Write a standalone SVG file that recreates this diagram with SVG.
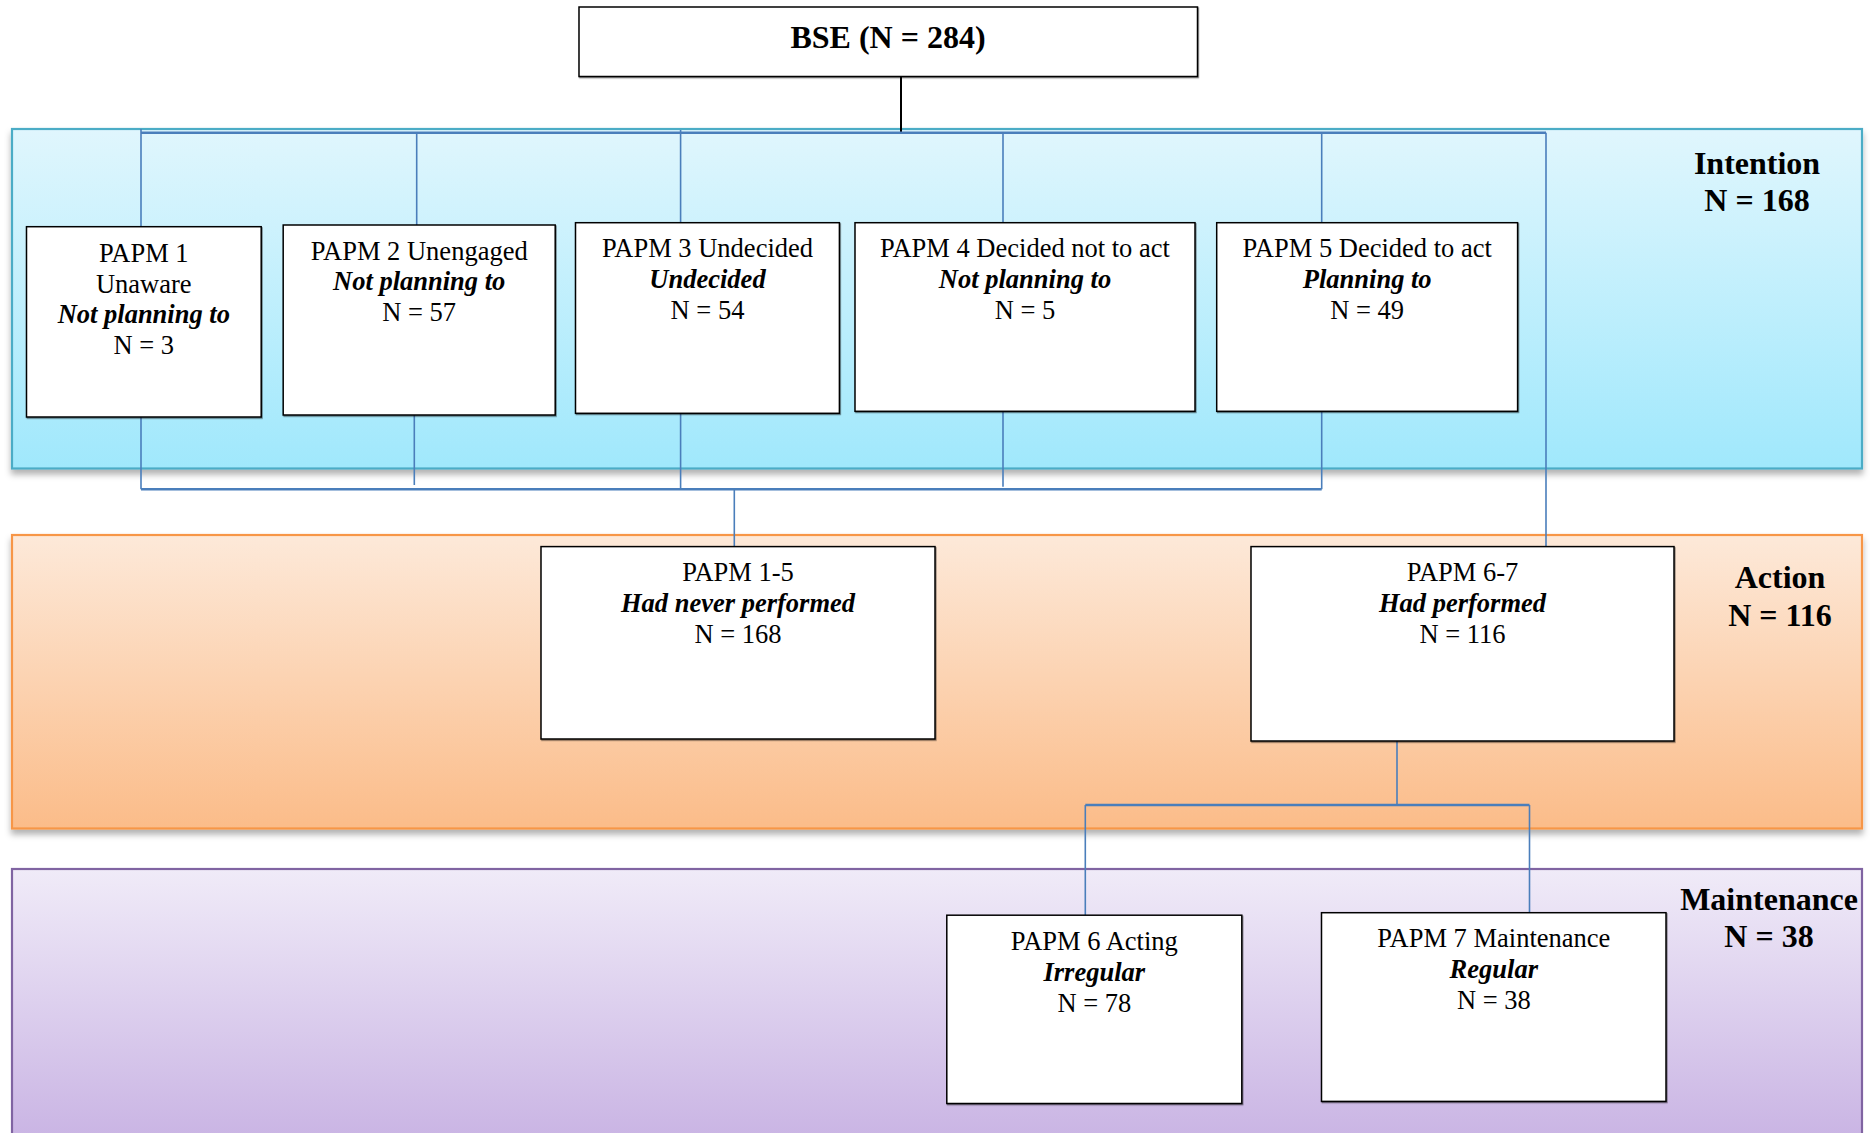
<svg xmlns="http://www.w3.org/2000/svg" width="1872" height="1133" viewBox="0 0 1872 1133">
<style>
.box{fill:#ffffff;stroke:#000000;stroke-width:1.5;filter:url(#bsh)}
.t{font-family:"Liberation Serif","Times New Roman",serif;font-size:26.5px;fill:#000;text-anchor:middle}
.bi{font-weight:bold;font-style:italic}
.lab{font-family:"Liberation Serif","Times New Roman",serif;font-size:32px;font-weight:bold;fill:#000;text-anchor:middle}
.con{fill:none;stroke:#4a7ebb;stroke-width:1.6}
.bus{fill:none;stroke:#4a7ebb;stroke-width:2.4}
</style>
<defs>
<linearGradient id="gI" x1="0" y1="0" x2="0" y2="1"><stop offset="0" stop-color="#e0f6fd"/><stop offset="1" stop-color="#a0e8fc"/></linearGradient>
<linearGradient id="gA" x1="0" y1="0" x2="0" y2="1"><stop offset="0" stop-color="#fde9d9"/><stop offset="1" stop-color="#fbbc89"/></linearGradient>
<linearGradient id="gM" x1="0" y1="0" x2="0" y2="1"><stop offset="0" stop-color="#f0ebf8"/><stop offset="1" stop-color="#c8b2e3"/></linearGradient>
<filter id="sh" x="-5%" y="-10%" width="110%" height="130%"><feDropShadow dx="0" dy="5" stdDeviation="3" flood-color="#000" flood-opacity="0.3"/></filter>
<filter id="bsh" x="-5%" y="-5%" width="110%" height="110%"><feDropShadow dx="0.8" dy="1.2" stdDeviation="0.6" flood-color="#000" flood-opacity="0.45"/></filter>
</defs>
<rect width="1872" height="1133" fill="#ffffff"/>

<g id="band-intention">
<rect x="12" y="129" width="1850" height="339.5" fill="url(#gI)" stroke="#4bacc6" stroke-width="2.2" filter="url(#sh)"/>
<text class="lab" x="1757" y="173.5">Intention</text>
<text class="lab" x="1757" y="210.5">N = 168</text>
</g>
<g id="band-action">
<rect x="12" y="535" width="1850" height="293.5" fill="url(#gA)" stroke="#f79646" stroke-width="2.2" filter="url(#sh)"/>
<text class="lab" x="1780" y="588">Action</text>
<text class="lab" x="1780" y="625.5">N = 116</text>
</g>
<g id="band-maintenance">
<rect x="12" y="869" width="1850" height="280" fill="url(#gM)" stroke="#8064a2" stroke-width="2.2"/>
<text class="lab" x="1769" y="909.5">Maintenance</text>
<text class="lab" x="1769" y="947">N = 38</text>
</g>

<g id="connectors">
<line x1="901" y1="76.5" x2="901" y2="132.7" stroke="#000" stroke-width="2"/>
<line class="bus" x1="141" y1="132.7" x2="1546" y2="132.7"/>
<line class="con" x1="141" y1="129" x2="141" y2="226.7"/>
<line class="con" x1="416.7" y1="132.7" x2="416.7" y2="225"/>
<line class="con" x1="680.6" y1="130" x2="680.6" y2="222.7"/>
<line class="con" x1="1003" y1="132.7" x2="1003" y2="222.7"/>
<line class="con" x1="1321.7" y1="132.7" x2="1321.7" y2="222.7"/>
<line class="con" x1="1546" y1="132.7" x2="1546" y2="546.6"/>
<line class="con" x1="141" y1="417" x2="141" y2="489.2"/>
<line class="con" x1="414.3" y1="415" x2="414.3" y2="485"/>
<line class="con" x1="680.6" y1="413.3" x2="680.6" y2="489.2"/>
<line class="con" x1="1003" y1="411.3" x2="1003" y2="486.7"/>
<line class="con" x1="1321.7" y1="411.3" x2="1321.7" y2="489.2"/>
<line class="bus" x1="141" y1="489.2" x2="1321.7" y2="489.2"/>
<line class="con" x1="734.3" y1="489.2" x2="734.3" y2="546.6"/>
<line class="con" x1="1397" y1="741" x2="1397" y2="805"/>
<line class="bus" x1="1085.3" y1="805" x2="1529.5" y2="805"/>
<line class="con" x1="1085.3" y1="805" x2="1085.3" y2="915.2"/>
<line class="con" x1="1529.5" y1="805" x2="1529.5" y2="913"/>
</g>

<g id="bse">
<rect class="box" x="579" y="7" width="618.5" height="69.5"/>
<text class="lab" x="888" y="47.7">BSE (N = 284)</text>
</g>

<g id="papm1">
<rect class="box" x="26.5" y="226.7" width="234.7" height="190.3"/>
<text class="t" x="143.8" y="262.3">PAPM 1</text>
<text class="t" x="143.8" y="292.8">Unaware</text>
<text class="t bi" x="143.8" y="323.3">Not planning to</text>
<text class="t" x="143.8" y="353.8">N = 3</text>
</g>
<g id="papm2">
<rect class="box" x="283.2" y="225" width="272" height="190"/>
<text class="t" x="419.2" y="259.6">PAPM 2 Unengaged</text>
<text class="t bi" x="419.2" y="290.4">Not planning to</text>
<text class="t" x="419.2" y="321.2">N = 57</text>
</g>
<g id="papm3">
<rect class="box" x="575.5" y="222.7" width="263.9" height="190.6"/>
<text class="t" x="707.5" y="257.3">PAPM 3 Undecided</text>
<text class="t bi" x="707.5" y="288.1">Undecided</text>
<text class="t" x="707.5" y="318.9">N = 54</text>
</g>
<g id="papm4">
<rect class="box" x="855" y="222.7" width="340" height="188.6"/>
<text class="t" x="1025" y="257.3">PAPM 4 Decided not to act</text>
<text class="t bi" x="1025" y="288.1">Not planning to</text>
<text class="t" x="1025" y="318.9">N = 5</text>
</g>
<g id="papm5">
<rect class="box" x="1216.7" y="222.7" width="300.9" height="188.6"/>
<text class="t" x="1367.2" y="257.3">PAPM 5 Decided to act</text>
<text class="t bi" x="1367.2" y="288.1">Planning to</text>
<text class="t" x="1367.2" y="318.9">N = 49</text>
</g>
<g id="papm1-5">
<rect class="box" x="541" y="546.6" width="394" height="192.4"/>
<text class="t" x="738" y="581.2">PAPM 1-5</text>
<text class="t bi" x="738" y="612.2">Had never performed</text>
<text class="t" x="738" y="643.2">N = 168</text>
</g>
<g id="papm6-7">
<rect class="box" x="1251" y="546.6" width="423" height="194.4"/>
<text class="t" x="1462.5" y="581.2">PAPM 6-7</text>
<text class="t bi" x="1462.5" y="612.2">Had performed</text>
<text class="t" x="1462.5" y="643.2">N = 116</text>
</g>
<g id="papm6">
<rect class="box" x="946.8" y="915.2" width="295" height="188.3"/>
<text class="t" x="1094.3" y="949.8">PAPM 6 Acting</text>
<text class="t bi" x="1094.3" y="980.8">Irregular</text>
<text class="t" x="1094.3" y="1011.8">N = 78</text>
</g>
<g id="papm7">
<rect class="box" x="1321.5" y="912.7" width="344.5" height="188.7"/>
<text class="t" x="1493.8" y="947.3">PAPM 7 Maintenance</text>
<text class="t bi" x="1493.8" y="978.3">Regular</text>
<text class="t" x="1493.8" y="1009.3">N = 38</text>
</g>
</svg>
